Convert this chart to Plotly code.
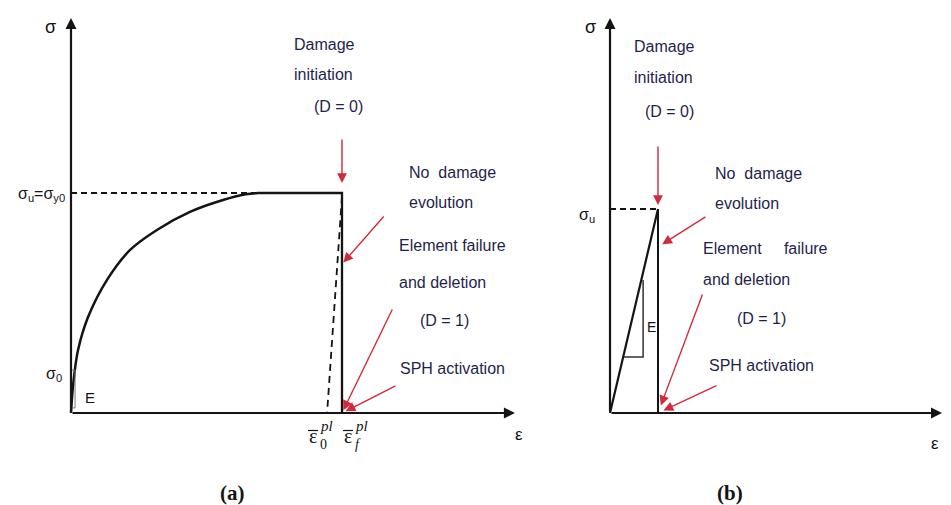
import plotly.graph_objects as go

# ---------------- data (normalised units: failure strain = 1, ultimate stress = 1) ----------------
# (a) elastic-plastic hardening curve
curve_eps = [0.0, 0.0085, 0.026, 0.063, 0.133, 0.218, 0.317, 0.439, 0.561, 0.645, 0.69]
curve_sig = [0.0, 0.136, 0.286, 0.436, 0.605, 0.741, 0.832, 0.914, 0.968, 0.994, 1.0]
eps0_a = 0.945          # plastic strain at damage initiation (dashed unloading)
epsf_a = 1.0            # plastic strain at failure
sigu_a = 1.0            # sigma_u = sigma_y0
sig0_a = 0.18           # initial yield stress sigma_0
elastic_box_eps = [0.0, 0.015]
elastic_box_sig = [0.023, 0.195]
axis_max_a = [1.638, 1.795]   # extent of the drawn eps / sigma axes

# (b) linear elastic, brittle
lin_eps = [0.0, 1.0]
lin_sig = [0.0, 1.0]
epsf_b = 1.0
sigu_b = 1.0
tri_eps = [0.29, 0.69, 0.69]
tri_sig = [0.275, 0.275, 0.652]
axis_max_b = [6.917, 1.936]

# ---------------- figure geometry ----------------
W, H = 951, 505
SPLIT = 540                      # pixel column where panel (b) starts


def px(x):
    return x / W


def py(y):
    return 1 - y / H


BLACK = "#141414"
NAVY = "#1f1f4d"
RED = "#d12a3c"
SANS = "Liberation Sans, Arial, sans-serif"
SERIF = "Liberation Serif, Times New Roman, serif"

fig = go.Figure()

# ---- panel (a) ----
fig.add_trace(go.Scatter(x=[0, curve_eps[-1]], y=[sigu_a, sigu_a], mode="lines",
                         line=dict(color=BLACK, width=1.8, dash="6px,4px"),
                         xaxis="x", yaxis="y", hoverinfo="skip"))
fig.add_trace(go.Scatter(x=[epsf_a, eps0_a], y=[sigu_a * 0.985, 0], mode="lines",
                         line=dict(color=BLACK, width=1.8, dash="7px,5px"),
                         xaxis="x", yaxis="y", hoverinfo="skip"))
fig.add_trace(go.Scatter(x=curve_eps, y=curve_sig, mode="lines", line_shape="spline",
                         line=dict(color=BLACK, width=2.5),
                         xaxis="x", yaxis="y", hoverinfo="skip"))
fig.add_trace(go.Scatter(x=[curve_eps[-1], epsf_a, epsf_a], y=[sigu_a, sigu_a, 0], mode="lines",
                         line=dict(color=BLACK, width=2.3),
                         xaxis="x", yaxis="y", hoverinfo="skip"))
bx0, bx1 = elastic_box_eps
by0, by1 = elastic_box_sig
fig.add_trace(go.Scatter(x=[bx0, bx1, bx1, bx0, bx0], y=[by0, by0, by1, by1, by0], mode="lines",
                         line=dict(color="#777777", width=1),
                         xaxis="x", yaxis="y", hoverinfo="skip"))

# ---- panel (b) ----
fig.add_trace(go.Scatter(x=[0, epsf_b], y=[sigu_b, sigu_b], mode="lines",
                         line=dict(color=BLACK, width=1.8, dash="6px,4px"),
                         xaxis="x2", yaxis="y2", hoverinfo="skip"))
fig.add_trace(go.Scatter(x=lin_eps, y=lin_sig, mode="lines",
                         line=dict(color=BLACK, width=2.2),
                         xaxis="x2", yaxis="y2", hoverinfo="skip"))
fig.add_trace(go.Scatter(x=[epsf_b, epsf_b], y=[sigu_b, 0], mode="lines",
                         line=dict(color=BLACK, width=2.0),
                         xaxis="x2", yaxis="y2", hoverinfo="skip"))
fig.add_trace(go.Scatter(x=tri_eps, y=tri_sig, mode="lines",
                         line=dict(color="#333333", width=1.5),
                         xaxis="x2", yaxis="y2", hoverinfo="skip"))

ann = []
shapes = []


def axis_arrow(xr, yr, x_end, y_end):
    ann.append(dict(x=x_end, y=y_end, ax=0, ay=0, xref=xr, yref=yr, axref=xr, ayref=yr,
                    text="", showarrow=True, arrowhead=2, arrowsize=1.0, arrowwidth=2.2,
                    arrowcolor=BLACK))


axis_arrow("x", "y", axis_max_a[0], 0)
axis_arrow("x", "y", 0, axis_max_a[1])
axis_arrow("x2", "y2", axis_max_b[0], 0)
axis_arrow("x2", "y2", 0, axis_max_b[1])


def red_arrow(xr, yr, x, y, ax, ay, standoff):
    ann.append(dict(x=x, y=y, xref=xr, yref=yr, ax=ax, ay=ay, text="", showarrow=True,
                    arrowhead=2, arrowsize=1.4, arrowwidth=1.4, arrowcolor=RED,
                    standoff=standoff))


# panel (a) pointers
red_arrow("x", "y", epsf_a, sigu_a, 0, -55, 10)
red_arrow("x", "y", epsf_a, 0.677, 43, -49, 2)
red_arrow("x", "y", epsf_a, 0, 51, -105, 3)
red_arrow("x", "y", epsf_a, 0, 55, -28, 4)
# panel (b) pointers
red_arrow("x2", "y2", epsf_b, sigu_b, 0, -64, 4)
red_arrow("x2", "y2", epsf_b, 0.814, 49, -31, 5)
red_arrow("x2", "y2", epsf_b, 0, 45, -120, 8)
red_arrow("x2", "y2", epsf_b, 0, 60, -28, 6)


def label(text, x, y, size=16, color=NAVY, family=SANS, xanchor="left"):
    ann.append(dict(x=px(x), y=py(y), xref="paper", yref="paper", text=text, showarrow=False,
                    xanchor=xanchor, yanchor="middle",
                    font=dict(family=family, size=size, color=color)))


NB = "\u00a0"
# annotations, panel (a)
label("Damage", 292, 45)
label("initiation", 292, 74)
label("(D = 0)", 312, 107)
label("No" + NB * 2 + "damage", 407, 172)
label("evolution", 407, 202)
label("Element failure", 397, 245)
label("and deletion", 397, 282)
label("(D = 1)", 418, 320)
label("SPH activation", 398, 368)
# annotations, panel (b)
label("Damage", 632, 47)
label("initiation", 632, 77)
label("(D = 0)", 643, 112)
label("No" + NB * 2 + "damage", 713, 173)
label("evolution", 713, 203)
label("Element" + NB * 5 + "failure", 701, 248)
label("and deletion", 701, 279)
label("(D = 1)", 735, 318)
label("SPH activation", 707, 365)

# axis symbols
label("σ", 50, 27, size=18, color=BLACK, xanchor="center")
label("σ", 590, 27, size=18, color=BLACK, xanchor="center")
label("ε", 519, 434, size=17, color=BLACK, xanchor="center")
label("ε", 935, 443, size=17, color=BLACK, xanchor="center")
label("σ<sub>u</sub>=σ<sub>y0</sub>", 67, 194, size=16, color=BLACK, xanchor="right")
label("σ<sub>0</sub>", 64, 374, size=16, color=BLACK, xanchor="right")
label("E", 83, 397, size=15, color=BLACK)
label("σ<sub>u</sub>", 597, 216, size=16, color=BLACK, xanchor="right")
label("E", 651, 327, size=14, color=BLACK, xanchor="center")

# strain markers on the eps axis: eps with an overbar, stacked 'pl' / subscript
for xb, sub in [(313, "0"), (348, "f")]:
    label("ε", xb, 436, size=20, color=BLACK, family=SERIF, xanchor="center")
    shapes.append(dict(type="line", xref="paper", yref="paper",
                       x0=px(xb - 5), x1=px(xb + 5), y0=py(430.5), y1=py(430.5),
                       line=dict(color=BLACK, width=1.2)))
    label("<i>pl</i>", xb + 5, 426, size=15, color=BLACK, family=SERIF)
    label("<i>f</i>" if sub == "f" else sub, xb + 5, 444, size=14, color=BLACK, family=SERIF)

# panel captions
label("<b>(a)</b>", 232, 493, size=21, color=BLACK, family=SERIF, xanchor="center")
label("<b>(b)</b>", 730, 493, size=21, color=BLACK, family=SERIF, xanchor="center")

hidden = dict(visible=False, showgrid=False, zeroline=False, fixedrange=True)
fig.update_layout(
    width=W, height=H,
    margin=dict(l=0, r=0, t=0, b=0),
    paper_bgcolor="white", plot_bgcolor="white",
    showlegend=False,
    xaxis=dict(domain=[0, SPLIT / W], range=[-71 / 271, (SPLIT - 71) / 271], **hidden),
    yaxis=dict(domain=[0, 1], anchor="x", range=[-92 / 220, 413 / 220], **hidden),
    xaxis2=dict(domain=[SPLIT / W, 1], anchor="y2", range=[-70 / 48, (W - 610) / 48], **hidden),
    yaxis2=dict(domain=[0, 1], anchor="x2", range=[-92 / 204, 413 / 204], **hidden),
    annotations=ann,
    shapes=shapes,
)

fig.write_html("out.html")
